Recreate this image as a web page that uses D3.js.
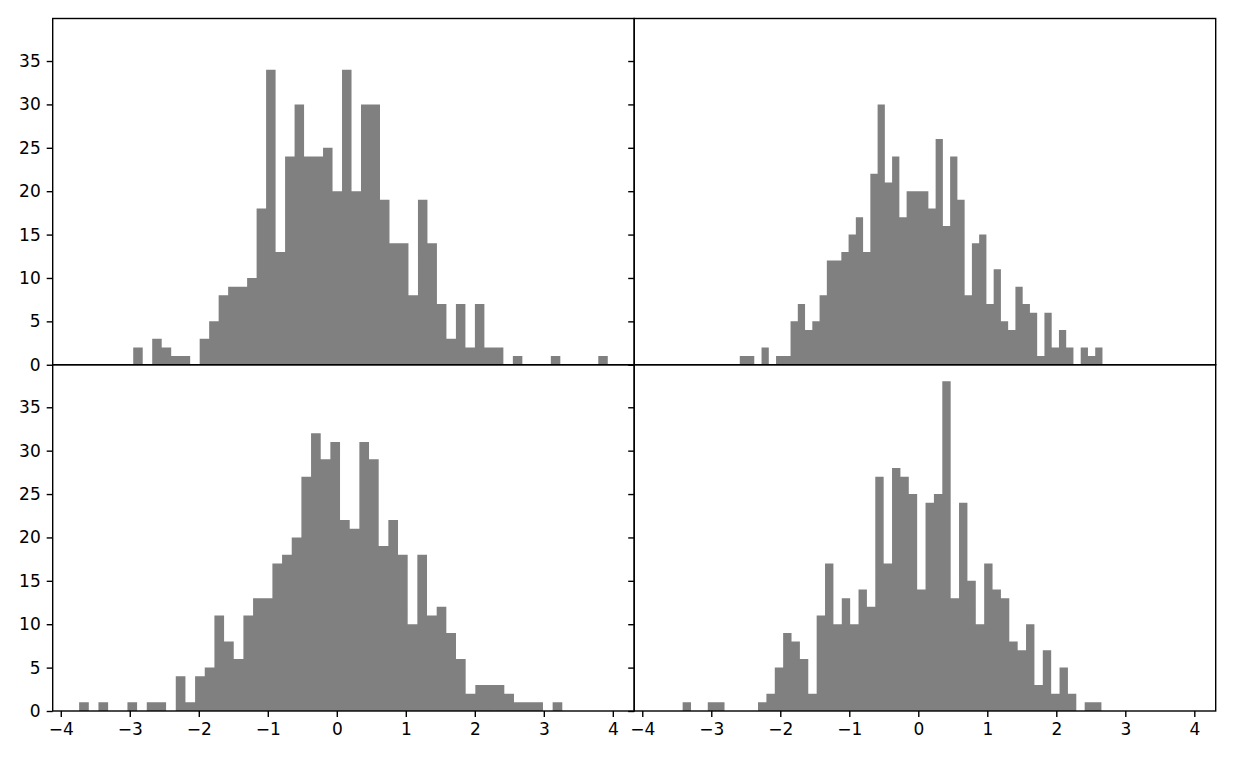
<!DOCTYPE html>
<html>
<head>
<meta charset="utf-8">
<script src="https://cdn.jsdelivr.net/npm/d3@7/dist/d3.min.js"></script>
<style>
  html, body { margin: 0; padding: 0; background: #fff; }
  svg { display: block; }
  .tick text { font-family: "DejaVu Sans", sans-serif; fill: #000; }
</style>
</head>
<body>
<svg id="chart" width="1237" height="761"></svg>
<script>
// ---- data: 50-bin histogram counts per panel ----
const countsTL = [2,0,3,2,1,1,0,3,5,8,9,9,10,18,34,13,24,30,24,24,25,20,34,20,30,30,19,14,14,8,19,14,7,3,7,2,7,2,2,0,1,0,0,0,1,0,0,0,0,1];
const countsTR = [1,1,0,2,0,1,1,5,7,4,5,8,12,12,13,15,17,13,22,30,21,24,17,20,20,20,18,26,16,24,19,8,14,15,7,11,5,4,9,7,6,1,6,2,4,2,0,2,1,2];
const countsBL = [1,0,1,0,0,1,0,1,1,0,4,1,4,5,11,8,6,11,13,13,17,18,20,27,32,29,31,22,21,31,29,19,22,18,10,18,11,12,9,6,2,3,3,3,2,1,1,1,0,1];
const countsBR = [1,0,0,1,1,0,0,0,0,1,2,5,9,8,6,2,11,17,10,13,10,14,12,27,17,28,27,25,14,24,25,38,13,24,15,10,17,14,13,8,7,10,3,7,2,5,2,0,1,1];
// bin range [first edge, last edge] per panel
const rangeTL = [-2.950, 3.927];
const rangeTR = [-2.587, 2.669];
const rangeBL = [-3.734, 3.268];
const rangeBR = [-3.415, 2.654];
// axis limits & ticks
const xLimits = [-4.117, 4.310];
const yLimits = [0, 39.9];
const xTicks = [-4, -3, -2, -1, 0, 1, 2, 3, 4];
const yTicks = [0, 5, 10, 15, 20, 25, 30, 35];

// ---- layout ----
const L = 52.7, M = 634.2, R = 1215.7;
const T = 18.5, Mid = 364.75, B = 711;
const fontSize = 17;
const tickLen = 6, tickPad = 6;
const lw = 1.4;

const panels = [
  {counts: countsTL, range: rangeTL, x0: L, x1: M, y0: T, y1: Mid, col: 0, row: 0},
  {counts: countsTR, range: rangeTR, x0: M, x1: R, y0: T, y1: Mid, col: 1, row: 0},
  {counts: countsBL, range: rangeBL, x0: L, x1: M, y0: Mid, y1: B, col: 0, row: 1},
  {counts: countsBR, range: rangeBR, x0: M, x1: R, y0: Mid, y1: B, col: 1, row: 1}
];

const svg = d3.select("#chart");

panels.forEach(p => {
  const x = d3.scaleLinear().domain(xLimits).range([p.x0, p.x1]);
  const y = d3.scaleLinear().domain(yLimits).range([p.y1, p.y0]);
  const n = p.counts.length;
  const w = (p.range[1] - p.range[0]) / n;
  const bins = p.counts.map((c, i) => ({lo: p.range[0] + i * w, hi: p.range[0] + (i + 1) * w, c}));

  // all bars of a panel in one path (no seams between adjacent bars)
  const path = d3.path();
  bins.filter(b => b.c > 0).forEach(b => {
    path.rect(x(b.lo), y(b.c), x(b.hi) - x(b.lo), y(0) - y(b.c));
  });
  svg.append("path").attr("d", path.toString()).attr("fill", "#808080");

  // y axis
  const ya = d3.axisLeft(y).tickValues(yTicks).tickSize(tickLen).tickPadding(tickPad)
    .tickFormat(p.col === 0 ? d3.format("d") : () => "");
  const yg = svg.append("g").attr("transform", `translate(${p.x0},0)`).call(ya);
  yg.select(".domain").remove();
  yg.selectAll(".tick line").attr("stroke", "#000").attr("stroke-width", lw);
  yg.selectAll(".tick text").style("font-size", fontSize + "px");

  // x axis only on bottom row
  if (p.row === 1) {
    const xa = d3.axisBottom(x).tickValues(xTicks).tickSize(tickLen).tickPadding(tickPad)
      .tickFormat(d3.format("d"));
    const xg = svg.append("g").attr("transform", `translate(0,${p.y1})`).call(xa);
    xg.select(".domain").remove();
    xg.selectAll(".tick line").attr("stroke", "#000").attr("stroke-width", lw);
    xg.selectAll(".tick text").style("font-size", fontSize + "px");
  }

  // frame
  svg.append("rect")
    .attr("x", p.x0).attr("y", p.y0)
    .attr("width", p.x1 - p.x0).attr("height", p.y1 - p.y0)
    .attr("fill", "none").attr("stroke", "#000").attr("stroke-width", lw);
});
</script>
</body>
</html>
